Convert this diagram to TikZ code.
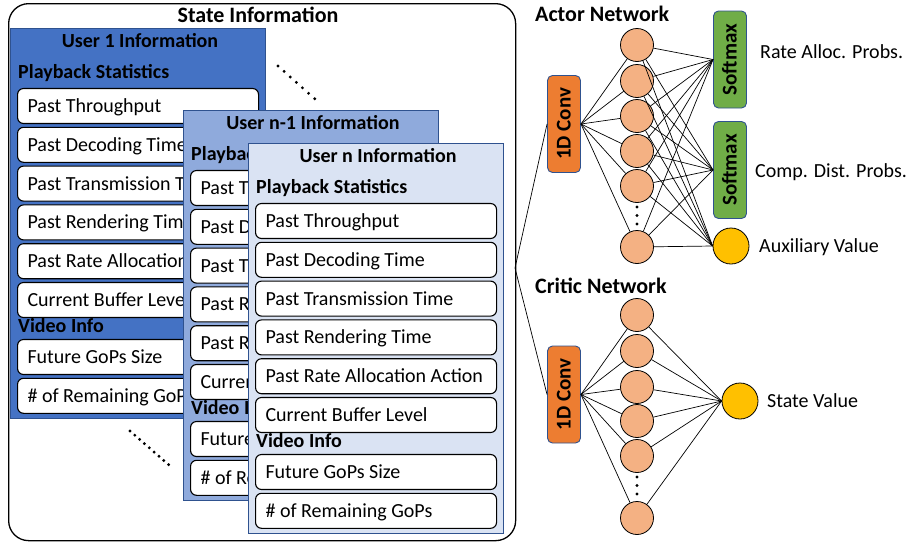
\documentclass[tikz,border=0pt]{standalone}
\usepackage{fontspec}
\setmainfont{Carlito}
\definecolor{uone}{HTML}{4472C4}
\definecolor{utwo}{HTML}{8FAADC}
\definecolor{uthree}{HTML}{DAE3F3}
\definecolor{edgeblue}{HTML}{2F528F}
\definecolor{convfill}{HTML}{ED7D31}
\definecolor{neuronfill}{HTML}{F4B183}
\definecolor{softfill}{HTML}{70AD47}
\definecolor{outfill}{HTML}{FFC000}

\tikzset{
  txt/.style={font=\fontsize{20}{24}\selectfont},
  bold/.style={font=\fontsize{20}{24}\selectfont\bfseries},
  bigbold/.style={font=\fontsize{22}{26}\selectfont\bfseries},
  outerbox/.style={draw=black, line width=1.3pt, rounded corners=20pt,
    minimum width=507pt, minimum height=537pt, anchor=north west, inner sep=0},
  panel/.style={draw=edgeblue, line width=0.9pt, minimum width=255pt,
    minimum height=390pt, anchor=north west, inner sep=0},
  paneltitle/.style={bold, inner sep=0, text height=15pt, text depth=2pt},
  sectionhead/.style={bold, anchor=west, inner sep=0, text height=15pt, text depth=2pt},
  item/.style={txt, draw=black, line width=1.1pt, fill=white, rounded corners=6pt,
    anchor=west, inner xsep=10pt, inner ysep=0,
    minimum width=241pt, minimum height=35pt, text height=15pt, text depth=2pt},
  dotrow/.style={line width=3.2pt, line cap=round, dash pattern=on 0pt off #1},
  layerbox/.style={draw=edgeblue, line width=0.9pt, rounded corners=5pt, rotate=90,
    inner sep=0, text height=14pt, text depth=1pt},
  convbox/.style={layerbox, fill=convfill, minimum width=97pt, minimum height=33pt,
    font=\fontsize{21}{24}\selectfont\bfseries},
  softbox/.style={layerbox, fill=softfill, minimum width=97pt, minimum height=33pt,
    font=\fontsize{21}{24}\selectfont\bfseries},
  neuron/.style={circle, draw=black, line width=0.8pt, fill=neuronfill,
    minimum size=33pt, inner sep=0},
  outunit/.style={circle, draw=black, line width=0.8pt, fill=outfill,
    minimum size=36pt, inner sep=0},
  label/.style={txt, anchor=west, inner sep=0, text height=15pt, text depth=2pt},
  heading/.style={bigbold, anchor=west, inner sep=0, text height=16pt, text depth=2pt},
  link/.style={line width=0.7pt, draw=black},
}

% left-aligned text inside an item box of fixed width
\newcommand\itemtext[1]{\makebox[221pt][l]{#1}}

% one user's information panel: x0, y0, fill, title, name prefix
\newcommand\userpanel[5]{%
  \node[panel, fill=#3] (#5box) at (#1,#2) {};
  \node[paneltitle] (#5title) at ({#1+130},{#2+13}) {#4};
  \node[sectionhead] (#5play) at ({#1+8},{#2+44}) {Playback Statistics};
  \foreach \txt [count=\k] in {Past Throughput, Past Decoding Time,
      Past Transmission Time, Past Rendering Time,
      Past Rate Allocation Action, Current Buffer Level}
    \node[item] (#5i\k) at ({#1+7},{#2+78+38.8*(\k-1)}) {\itemtext{\txt}};
  \node[sectionhead] (#5video) at ({#1+8},{#2+298}) {Video Info};
  \node[item] (#5fut) at ({#1+7},{#2+329}) {\itemtext{Future GoPs Size}};
  \node[item] (#5rem) at ({#1+7},{#2+367.8}) {\itemtext{\# of Remaining GoPs}};
}

\begin{document}
\begin{tikzpicture}[x=1pt, y=-1pt]
\useasboundingbox (0,0) rectangle (906,542);

% state information container
\node[outerbox] (state) at (8,3) {};
\node[bigbold, inner sep=0, text height=16pt, text depth=2pt] (statetitle) at (258,15) {State Information};

% stacked user panels
\userpanel{10}{28}{uone}{User 1 Information}{ua}
\draw[dotrow=8.2pt] (278,66) -- (315,99);
\draw[dotrow=6.4pt] (130,431) -- (169,465);
\userpanel{183}{110}{utwo}{User n-1 Information}{ub}
\userpanel{248}{143}{uthree}{User n Information}{uc}

% actor network
\node[heading] (actortitle) at (535,14) {Actor Network};
\node[convbox] (aconv) at (564,124) {1D Conv};
\foreach \y [count=\k] in {45,81,116,151,186,247}
  \node[neuron] (an\k) at (637,\y) {};
\draw[dotrow=8.5pt] (637,207) -- (637,224);
\node[softbox] (asoft1) at (730,59.5) {Softmax};
\node[softbox] (asoft2) at (730,170) {Softmax};
\node[outunit] (aux) at (731,246) {};
\node[label] (ratelbl) at (760,52) {Rate Alloc. Probs.};
\node[label] (complbl) at (755,171) {Comp. Dist. Probs.};
\node[label] (auxlbl) at (759,246) {Auxiliary Value};
\foreach \k in {1,...,6} {
  \draw[link] (aconv.south) -- (an\k);
  \draw[link] (an\k) -- (asoft1.north);
  \draw[link] (an\k) -- (asoft2.north);
  \draw[link] (an\k) -- (aux.west);
}

% critic network
\node[heading] (critictitle) at (535,286) {Critic Network};
\node[convbox] (cconv) at (564,394.5) {1D Conv};
\foreach \y [count=\k] in {315,351,387,421,456,518}
  \node[neuron] (cn\k) at (637,\y) {};
\draw[dotrow=8.5pt] (637,477) -- (637,494);
\node[outunit] (sval) at (740,401) {};
\node[label] (svlbl) at (767,401) {State Value};
\foreach \k in {1,...,6} {
  \draw[link] (cconv.south) -- (cn\k);
  \draw[link] (cn\k) -- (sval.west);
}

% state feeds both networks
\coordinate (feed) at (515,268);
\draw[link] (feed) -- (aconv.north);
\draw[link] (feed) -- (cconv.north);
\end{tikzpicture}
\end{document}
